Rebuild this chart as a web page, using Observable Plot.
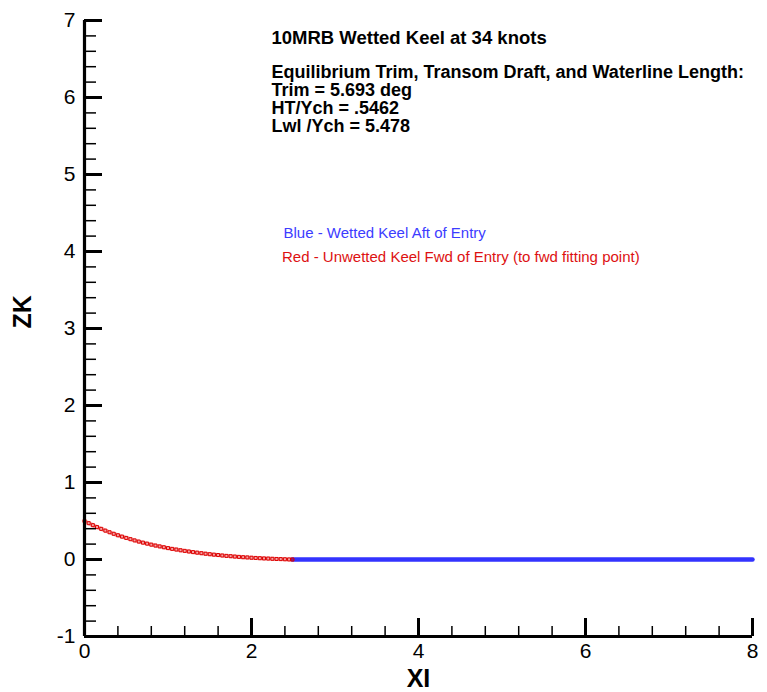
<!DOCTYPE html>
<html>
<head>
<meta charset="utf-8">
<script src="https://cdn.jsdelivr.net/npm/d3@7"></script>
<script src="https://cdn.jsdelivr.net/npm/@observablehq/plot@0.6"></script>
<style>
  html, body { margin: 0; padding: 0; background: #fff; }
  #chart { width: 767px; height: 692px; }
</style>
</head>
<body>
<div id="chart"></div>
<script>
// Red series: unwetted keel forward of entry (XI, ZK)
const redXI = [0.00,0.05,0.10,0.15,0.20,0.25,0.30,0.35,0.40,0.45,0.50,0.55,0.60,0.65,0.70,0.75,0.80,0.85,0.90,0.95,
               1.00,1.05,1.10,1.15,1.20,1.25,1.30,1.35,1.40,1.45,1.50,1.55,1.60,1.65,1.70,1.75,1.80,1.85,1.90,1.95,
               2.00,2.05,2.10,2.15,2.20,2.25,2.30,2.35,2.40,2.45,2.49];
const redZK = [0.500,0.472,0.446,0.421,0.398,0.375,0.354,0.334,0.315,0.297,0.280,0.264,0.248,0.233,0.219,0.206,0.193,0.181,0.170,0.159,
               0.148,0.138,0.129,0.120,0.112,0.104,0.096,0.089,0.082,0.075,0.069,0.063,0.058,0.052,0.047,0.043,0.038,0.034,0.030,0.027,
               0.023,0.020,0.017,0.014,0.012,0.009,0.007,0.005,0.003,0.001,0.000];
// Blue series: wetted keel aft of entry
const blueXI = [2.49,3,3.5,4,4.5,5,5.5,6,6.5,7,7.5,8];
const blueZK = [0,0,0,0,0,0,0,0,0,0,0,0];

// Axis ticks
const xMajor = [0,2,4,6,8];
const xMinor = [0.4,0.8,1.2,1.6,2.4,2.8,3.2,3.6,4.4,4.8,5.2,5.6,6.4,6.8,7.2,7.6];
const yMajor = [-1,0,1,2,3,4,5,6,7];
const yMinor = [-0.8,-0.6,-0.4,-0.2,0.2,0.4,0.6,0.8,1.2,1.4,1.6,1.8,2.2,2.4,2.6,2.8,3.2,3.4,3.6,3.8,
                4.2,4.4,4.6,4.8,5.2,5.4,5.6,5.8,6.2,6.4,6.6,6.8];

// Texts
const titleText = "10MRB Wetted Keel at 34 knots";
const infoLines = ["Equilibrium Trim, Transom Draft, and Waterline Length:", "Trim = 5.693 deg", "HT/Ych = .5462", "Lwl /Ych = 5.478"];
const blueLabel = "Blue - Wetted Keel Aft of Entry";
const redLabel = "Red - Unwetted Keel Fwd of Entry (to fwd fitting point)";
const xLabel = "XI";
const yLabel = "ZK";

const red = redXI.map((x, i) => ({x, z: redZK[i]}));
const blue = blueXI.map((x, i) => ({x, z: blueZK[i]}));

const W = 767, H = 692, mL = 84, mR = 15, mT = 20, mB = 56;
const fw = W - mL - mR, fh = H - mT - mB;
const font = "'Liberation Sans', Arial, Helvetica, sans-serif";

const chart = Plot.plot({
  width: W, height: H,
  marginLeft: mL, marginRight: mR, marginTop: mT, marginBottom: mB,
  x: {domain: [0, 8]},
  y: {domain: [-1, 7]},
  style: {fontFamily: font, background: "#fff", color: "#000"},
  marks: [
    // data
    Plot.line(blue, {x: "x", y: "z", stroke: "#3333ff", strokeWidth: 4.5}),
    Plot.line(red, {x: "x", y: "z", stroke: "#e00000", strokeOpacity: 0.35, strokeWidth: 4}),
    Plot.dot(red, {x: "x", y: "z", symbol: "square", r: 1.7, stroke: "#dd0000", strokeWidth: 1, fill: "none"}),
    // axis lines
    Plot.ruleX([0], {strokeWidth: 3.2}),
    Plot.ruleY([-1], {strokeWidth: 3.2}),
    // inward ticks
    Plot.tickY(yMajor, {y: d => d, insetRight: fw - 18, strokeWidth: 3}),
    Plot.tickY(yMinor, {y: d => d, insetRight: fw - 12, strokeWidth: 1.5}),
    Plot.tickX(xMajor, {x: d => d, insetTop: fh - 18, strokeWidth: 3}),
    Plot.tickX(xMinor, {x: d => d, insetTop: fh - 10, strokeWidth: 1.5}),
    // tick labels
    Plot.axisY({ticks: yMajor, tickSize: 0, tickPadding: 9, fontSize: 21, label: null, tickFormat: d => String(d)}),
    Plot.axisX({ticks: xMajor, tickSize: 0, tickPadding: 7, fontSize: 21, label: null, tickFormat: d => String(d)}),
    // axis titles
    Plot.text([yLabel], {text: d => d, frameAnchor: "left", dx: -62, rotate: -90, fontSize: 25, fontWeight: "bold"}),
    Plot.text([xLabel], {text: d => d, frameAnchor: "bottom", dy: 42, lineAnchor: "middle", fontSize: 25, fontWeight: "bold"}),
    // annotations
    Plot.text([titleText], {text: d => d, frameAnchor: "top-left", dx: 187, dy: 18, textAnchor: "start", lineAnchor: "middle", fontSize: 18.5, fontWeight: "bold"}),
    Plot.text([infoLines.join("\n")], {text: d => d, frameAnchor: "top-left", dx: 187, dy: 79, textAnchor: "start", lineAnchor: "middle", lineHeight: 1.0, fontSize: 18, fontWeight: "bold"}),
    Plot.text([blueLabel], {text: d => d, frameAnchor: "top-left", dx: 199, dy: 212.5, textAnchor: "start", lineAnchor: "middle", fontSize: 15, fill: "#3c3cff"}),
    Plot.text([redLabel], {text: d => d, frameAnchor: "top-left", dx: 197.5, dy: 237, textAnchor: "start", lineAnchor: "middle", fontSize: 15, fill: "#dd1111"})
  ]
});
document.getElementById("chart").appendChild(chart);
</script>
</body>
</html>
